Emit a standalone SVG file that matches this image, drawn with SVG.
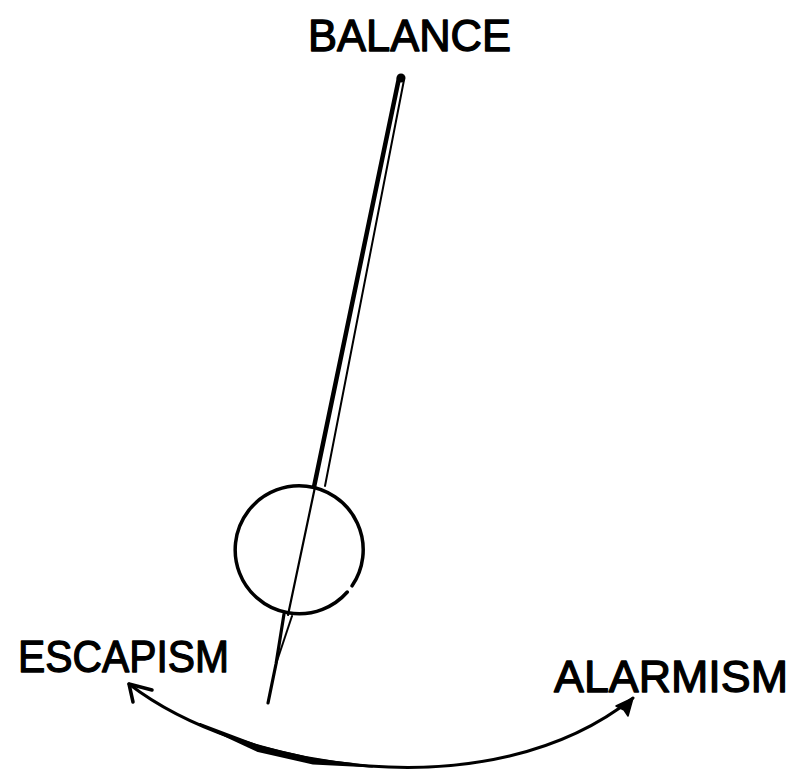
<svg xmlns="http://www.w3.org/2000/svg" width="793" height="778" viewBox="0 0 793 778">
<style>
.lbl{font-family:"Liberation Sans","DejaVu Sans",sans-serif;fill:#000;stroke:#000;stroke-width:1.3;stroke-linejoin:round;}
.ln{stroke:#000;fill:none;stroke-linecap:round;stroke-linejoin:round;}
</style>
<rect width="793" height="778" fill="#fff"/>
<g id="balance"><text class="lbl" x="308" y="51" font-size="44" textLength="203" lengthAdjust="spacingAndGlyphs">BALANCE</text></g>
<g id="escapism"><text class="lbl" x="18" y="672" font-size="45" textLength="211" lengthAdjust="spacingAndGlyphs">ESCAPISM</text></g>
<g id="alarmism"><text class="lbl" x="554" y="692" font-size="45" textLength="234" lengthAdjust="spacingAndGlyphs">ALARMISM</text></g>
<g id="pendulum">
<circle cx="401" cy="78" r="4.5" fill="#000"/>
<line class="ln" x1="399" y1="78" x2="314" y2="487" stroke-width="4.5"/>
<line class="ln" x1="404" y1="80" x2="325" y2="486" stroke-width="2"/>
<line class="ln" x1="315" y1="487" x2="288" y2="615" stroke-width="2.2"/>
<polyline class="ln" points="284,614 276,664 268,703" stroke-width="3.2"/>
<line class="ln" x1="292" y1="616" x2="276" y2="664" stroke-width="2"/>
<path class="ln" d="M352.1 585.8 A64 64 0 1 0 347.3 592.0" stroke-width="3.5"/>
</g>
<g id="connectors">
<path class="ln" d="M129 684 C240 770 490 812 633 698" stroke-width="3"/>
<path d="M200 724 L260 746.5 L313 759 L372 766.5 L313 763.5 L258 751 Z" stroke="#000" stroke-width="2" stroke-linejoin="round" fill="#000"/>
<polyline class="ln" points="152,690 129,684 133,702" stroke-width="3.5"/>
<path d="M633 698 L616 706 L624 710 L628 716 Z" fill="#000" stroke="#000" stroke-width="1.5" stroke-linejoin="round"/>
</g>
</svg>
